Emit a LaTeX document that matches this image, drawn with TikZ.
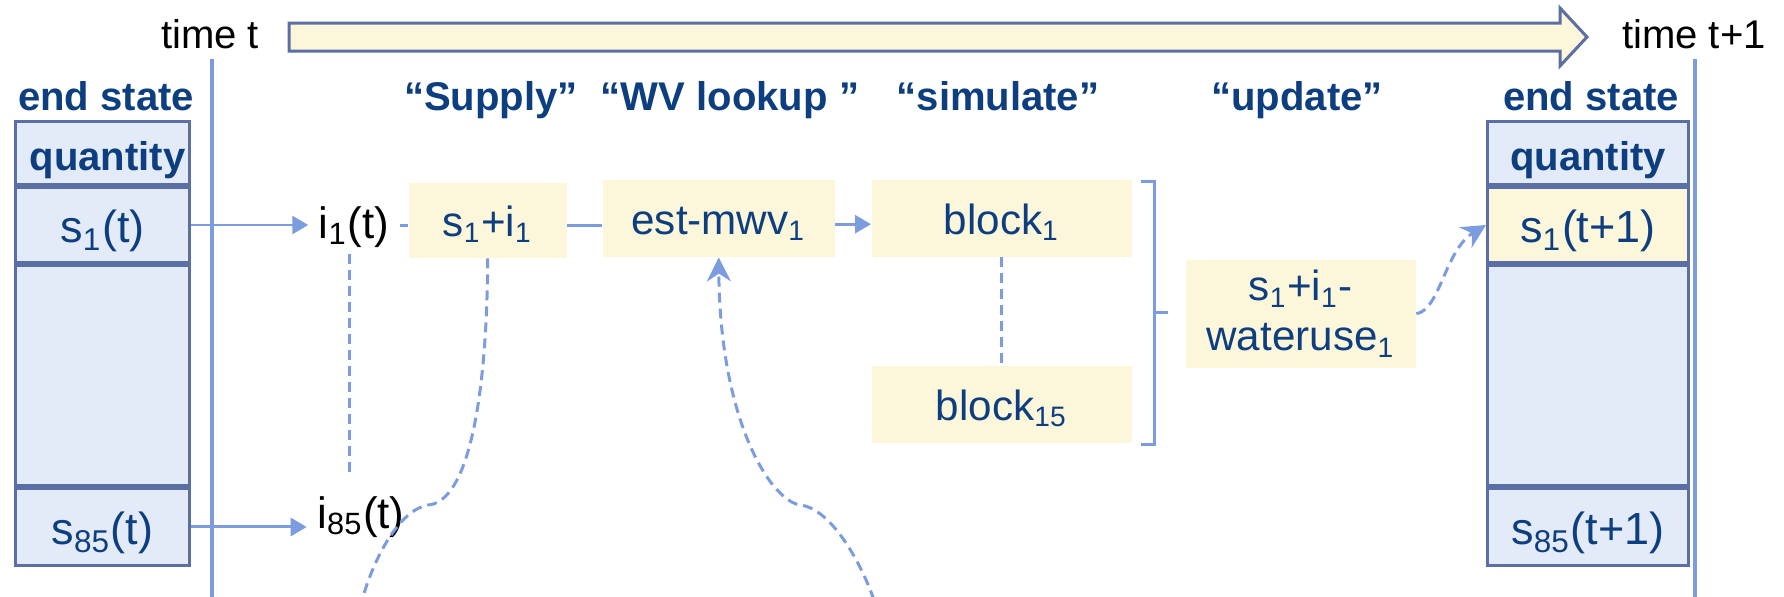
\documentclass[tikz,border=0pt]{standalone}
\usepackage{fontspec}
\setmainfont{Liberation Sans}
\usepackage{xcolor}
\usepackage{tikz}
\usetikzlibrary{arrows.meta,positioning,calc}

\definecolor{lineblue}{RGB}{124,156,224}
\definecolor{txtblue}{RGB}{13,62,128}
\definecolor{cellblue}{RGB}{227,234,248}
\definecolor{celledge}{RGB}{91,111,164}
\definecolor{cream}{RGB}{252,246,218}

\begin{document}
\begin{tikzpicture}[x=0.1mm, y=-0.1mm,
    cell/.style={draw=celledge, line width=0.3mm, fill=cellblue, inner sep=0, anchor=north west, text=txtblue, font=\fontsize{12.8}{15}\selectfont, text height=4.1mm, text depth=0.5mm},
    hdr/.style={text=txtblue, font=\bfseries\fontsize{11.4}{13}\selectfont, anchor=base, inner sep=0},
    pbox/.style={fill=cream, inner sep=0, anchor=north west, text=txtblue, font=\fontsize{12}{14.2}\selectfont},
    oneline/.style={text height=3.7mm, text depth=0.5mm},
    ilab/.style={font=\fontsize{12.5}{14}\selectfont, inner sep=1mm, text height=4.1mm, text depth=0.5mm},
    conn/.style={lineblue, line width=0.3mm},
    dconn/.style={conn, dash pattern=on 1mm off 0.6mm},
    arr/.style={-{Triangle[length=1.6mm,width=1.8mm]}},
    darr/.style={-{Stealth[length=2.4mm,width=2.4mm]}}]

    \useasboundingbox (0,0) rectangle (1784,597);

    \draw[celledge, line width=0.3mm, fill=cream] (289,23) -- (1560,23) -- (1560,8) -- (1587,37) -- (1560,66) -- (1560,51) -- (289,51) -- cycle;
    \node[anchor=base, font=\fontsize{11.4}{13}\selectfont, inner sep=0] (tnow) at (210,49) {time t};
    \node[anchor=base, font=\fontsize{11.4}{13}\selectfont, inner sep=0] (tnext) at (1694,48) {time t+1};

    \draw[lineblue, line width=0.35mm] (212,59) -- (212,597);
    \draw[lineblue, line width=0.35mm] (1695,59) -- (1695,597);

    \node[hdr] (lend) at (106,110) {end state};
    \node[hdr] (hsup) at (491,110) {“Supply”};
    \node[hdr] (hwv) at (730,110) {“WV lookup ”};
    \node[hdr] (hsim) at (998,110) {“simulate”};
    \node[hdr] (hupd) at (1297,110) {“update”};
    \node[hdr] (rend) at (1591,110) {end state};

    \node[cell, minimum width=17.4mm, minimum height=6.3mm, font=\bfseries\fontsize{11.4}{13}\selectfont] (lq) at (14,120) {\hspace{1mm}quantity};
    \node[cell, minimum width=17.4mm, minimum height=7.5mm] (ls1) at (lq.south west) {s\textsubscript{1}(t)};
    \node[cell, minimum width=17.4mm, minimum height=22mm] (lmid) at (ls1.south west) {};
    \node[cell, minimum width=17.4mm, minimum height=7.7mm] (ls85) at (lmid.south west) {s\textsubscript{85}(t)};

    \node[cell, minimum width=20.1mm, minimum height=6.3mm, font=\bfseries\fontsize{11.4}{13}\selectfont] (rq) at (1486,120) {quantity};
    \node[cell, minimum width=20.1mm, minimum height=7.5mm, fill=cream] (rs1) at (rq.south west) {s\textsubscript{1}(t+1)};
    \node[cell, minimum width=20.1mm, minimum height=22mm] (rmid) at (rs1.south west) {};
    \node[cell, minimum width=20.1mm, minimum height=7.7mm] (rs85) at (rmid.south west) {s\textsubscript{85}(t+1)};

    \node[ilab] (i1) at (354,220) {i\textsubscript{1}(t)};
    \node[ilab] (i85) at (361,510) {i\textsubscript{85}(t)};

    \node[pbox, oneline, minimum width=15.8mm, minimum height=7.5mm] (sup) at (408,182) {s\textsubscript{1}+i\textsubscript{1}};
    \node[pbox, oneline, minimum width=23.2mm, minimum height=7.7mm] (est) at (602,179) {est-mwv\textsubscript{1}};
    \node[pbox, oneline, minimum width=26mm, minimum height=7.7mm] (blk1) at (871,179) {block\textsubscript{1}};
    \node[pbox, oneline, minimum width=26mm, minimum height=7.7mm] (blk15) at (871,365) {block\textsubscript{15}};
    \node[pbox, align=center, minimum width=23mm, minimum height=10.8mm] (wu) at (1185,259) {s\textsubscript{1}+i\textsubscript{1}-\\wateruse\textsubscript{1}};

    \coordinate (sbot) at (362,600);
    \coordinate (mbot) at (874,600);

    \draw[conn, arr] (ls1.east) -- (ls1.east -| i1.west);
    \draw[conn, arr] (ls85.east) -- (ls85.east -| i85.west);
    \draw[conn] ([yshift=-0.5mm]i1.east) -- ([yshift=-0.5mm]i1.east -| sup.west);
    \draw[conn] ([yshift=-0.5mm]i1.east -| sup.east) -- ([yshift=-0.5mm]i1.east -| est.west);
    \draw[conn, arr] ([yshift=-0.6mm]est.east) -- ([yshift=-0.6mm]est.east -| blk1.west);
    \draw[dconn] ([xshift=-0.5mm]i1.south) -- ([xshift=-0.5mm]i1.south |- i85.north);
    \draw[dconn] (blk1.south) -- (blk15.north);
    \draw[conn] (1141,181) -| (1154,444) -- (1141,444);
    \draw[conn] (1154,312) -- (1168,312);
    \draw[dconn, darr] (wu.east) .. controls (1440,310) and (1445,250) .. (rs1.west);
    \draw[dconn] (sup.south) .. controls (487,400) and (468,502) .. (428,505) .. controls (400,510) and (375,555) .. (sbot);
    \draw[dconn, darr] (mbot) .. controls (860,560) and (830,508) .. (800,505) .. controls (770,500) and (720,420) .. (est.south);

\end{tikzpicture}
\end{document}
